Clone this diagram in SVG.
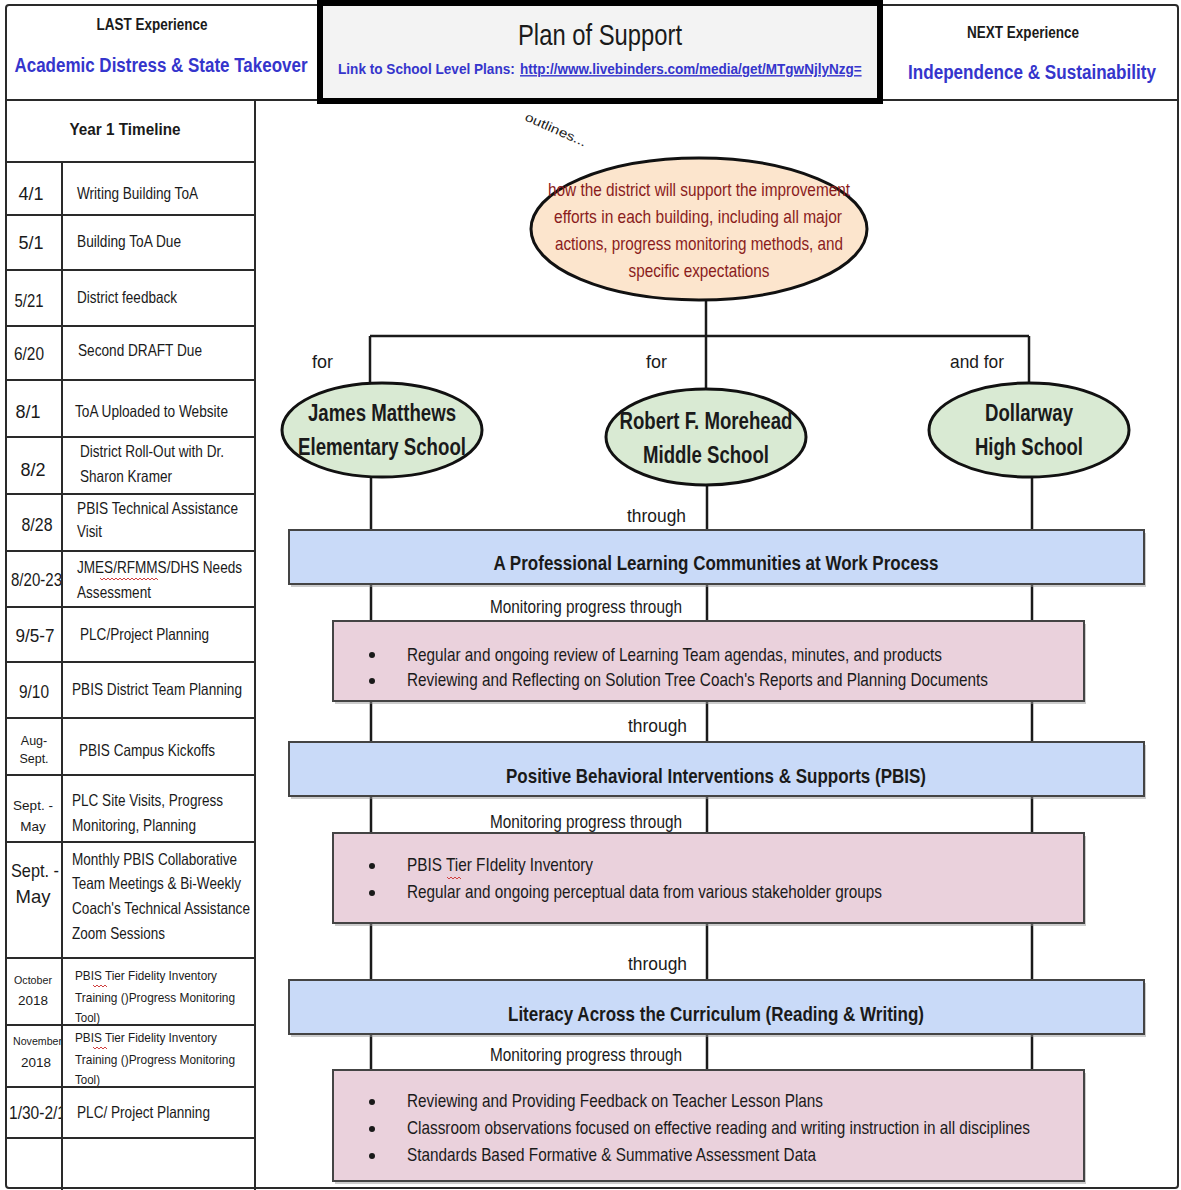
<svg xmlns="http://www.w3.org/2000/svg" width="1181" height="1190" viewBox="0 0 1181 1190">
<defs>
<style>
text{font-family:"Liberation Sans",Arial,sans-serif;fill:#1a1a1a}
.b{font-weight:bold}
.blue{fill:#3535cc}
.m{text-anchor:middle}
.d{font-size:18px}
.s{font-size:16.5px}
.xs{font-size:13.5px}
.tiny{font-size:11.5px}
.grid{stroke:#2a2a2a;stroke-width:2;fill:none}
.conn{stroke:#1a1a1a;stroke-width:2.5;fill:none}
.school{fill:#d9ead3;stroke:#111;stroke-width:3}
.sch{font-size:24px;font-weight:bold;text-anchor:middle}
.bar{fill:#c9daf8;stroke:#444;stroke-width:2}
.bart{font-size:21px;font-weight:bold;text-anchor:middle}
.pink{fill:#ead1dc;stroke:#444;stroke-width:2}
.bl{font-size:19px}
.lbl{font-size:19px}
.sq{stroke:#d04040;stroke-width:1;fill:none}
.shadow{fill:#999;opacity:0.5}
</style>
</defs>
<rect x="0" y="0" width="1181" height="1190" fill="#fff"/>

<!-- outer frame & table grid -->
<g id="frame">
<rect x="6" y="5" width="1172" height="1183" class="grid" rx="3"/>
<line x1="6" y1="100" x2="1178" y2="100" class="grid"/>
<line x1="255" y1="100" x2="255" y2="1190" class="grid"/>
</g>

<!-- header -->
<g id="last-experience">
<text x="152" y="30" class="b m" font-size="16.5" textLength="111" lengthAdjust="spacingAndGlyphs">LAST Experience</text>
<text transform="translate(161 72) scale(0.72 1)" x="0" y="0" class="b m blue" font-size="21" textLength="407" lengthAdjust="spacingAndGlyphs">Academic Distress &amp; State Takeover</text>
</g>
<g id="plan-of-support">
<rect x="320" y="3" width="560" height="98" fill="#f3f3f3" stroke="#000" stroke-width="6"/>
<text x="600" y="45" class="m" font-size="30" textLength="164" lengthAdjust="spacingAndGlyphs">Plan of Support</text>
<text transform="translate(338 74) scale(0.8 1)" x="0" y="0" class="b blue" font-size="14" textLength="221" lengthAdjust="spacingAndGlyphs">Link to School Level Plans:</text>
<text transform="translate(520 74) scale(0.8 1)" x="0" y="0" class="b blue" font-size="14" text-decoration="underline" textLength="427" lengthAdjust="spacingAndGlyphs">http://www.livebinders.com/media/get/MTgwNjlyNzg=</text>
</g>
<g id="next-experience">
<text x="1023" y="38" class="b m" font-size="16.5" textLength="112" lengthAdjust="spacingAndGlyphs">NEXT Experience</text>
<text transform="translate(1032 79) scale(0.78 1)" x="0" y="0" class="b m blue" font-size="21" textLength="318" lengthAdjust="spacingAndGlyphs">Independence &amp; Sustainability</text>
</g>

<!-- timeline table -->
<g id="timeline">
<text x="125" y="135" class="b m" font-size="17" textLength="111" lengthAdjust="spacingAndGlyphs">Year 1 Timeline</text>

<text x="31" y="200" class="d m">4/1</text>
<text x="77" y="199" class="s" textLength="121" lengthAdjust="spacingAndGlyphs">Writing Building ToA</text>

<text x="31" y="249" class="d m">5/1</text>
<text x="77" y="247" class="s" textLength="104" lengthAdjust="spacingAndGlyphs">Building ToA Due</text>

<text x="29" y="307" class="d m" textLength="29" lengthAdjust="spacingAndGlyphs">5/21</text>
<text x="77" y="303" class="s" textLength="100" lengthAdjust="spacingAndGlyphs">District feedback</text>

<text x="29" y="360" class="d m" textLength="30" lengthAdjust="spacingAndGlyphs">6/20</text>
<text x="78" y="356" class="s" textLength="124" lengthAdjust="spacingAndGlyphs">Second DRAFT Due</text>

<text x="28" y="418" class="d m">8/1</text>
<text x="75" y="417" class="s" textLength="153" lengthAdjust="spacingAndGlyphs">ToA Uploaded to Website</text>

<text x="33" y="476" class="d m">8/2</text>
<text x="80" y="457" class="s" textLength="144" lengthAdjust="spacingAndGlyphs">District Roll-Out with Dr.</text>
<text x="80" y="482" class="s" textLength="92" lengthAdjust="spacingAndGlyphs">Sharon Kramer</text>

<text x="37" y="531" class="d m" textLength="31" lengthAdjust="spacingAndGlyphs">8/28</text>
<text x="77" y="514" class="s" textLength="161" lengthAdjust="spacingAndGlyphs">PBIS Technical Assistance</text>
<text x="77" y="537" class="s" textLength="25" lengthAdjust="spacingAndGlyphs">Visit</text>

<text x="11" y="586" class="d" textLength="51" lengthAdjust="spacingAndGlyphs">8/20-23</text>
<text x="77" y="573" class="s" textLength="165" lengthAdjust="spacingAndGlyphs">JMES/RFMMS/DHS Needs</text>
<path class="sq" d="M100 578 l2 2 l2 -2 l2 2 l2 -2 l2 2 l2 -2 l2 2 l2 -2 l2 2 l2 -2 l2 2 l2 -2 l2 2 l2 -2 l2 2 l2 -2 l2 2 l2 -2 l2 2 l2 -2 l2 2 l2 -2 l2 2 l2 -2 l2 2 l2 -2 l2 2 l2 -2 l2 2"/>
<text x="77" y="598" class="s" textLength="74" lengthAdjust="spacingAndGlyphs">Assessment</text>

<text x="35" y="642" class="d m" textLength="39" lengthAdjust="spacingAndGlyphs">9/5-7</text>
<text x="80" y="640" class="s" textLength="129" lengthAdjust="spacingAndGlyphs">PLC/Project Planning</text>

<text x="34" y="698" class="d m" textLength="30" lengthAdjust="spacingAndGlyphs">9/10</text>
<text x="72" y="695" class="s" textLength="170" lengthAdjust="spacingAndGlyphs">PBIS District Team Planning</text>

<text x="34" y="745" class="m" font-size="12.5">Aug-</text>
<text x="34" y="763" class="m" font-size="12.5">Sept.</text>
<text x="79" y="756" class="s" textLength="136" lengthAdjust="spacingAndGlyphs">PBIS Campus Kickoffs</text>

<text x="33" y="810" class="xs m">Sept. -</text>
<text x="33" y="831" class="xs m">May</text>
<text x="72" y="806" class="s" textLength="151" lengthAdjust="spacingAndGlyphs">PLC Site Visits, Progress</text>
<text x="72" y="831" class="s" textLength="124" lengthAdjust="spacingAndGlyphs">Monitoring, Planning</text>

<text x="35" y="877" class="m" font-size="18.5" textLength="48" lengthAdjust="spacingAndGlyphs">Sept. -</text>
<text x="33" y="903" class="m" font-size="18.5">May</text>
<text x="72" y="865" class="s" textLength="165" lengthAdjust="spacingAndGlyphs">Monthly PBIS Collaborative</text>
<text x="72" y="889" class="s" textLength="169" lengthAdjust="spacingAndGlyphs">Team Meetings &amp; Bi-Weekly</text>
<text x="72" y="914" class="s" textLength="178" lengthAdjust="spacingAndGlyphs">Coach's Technical Assistance</text>
<text x="72" y="939" class="s" textLength="93" lengthAdjust="spacingAndGlyphs">Zoom Sessions</text>

<text x="33" y="984" class="tiny m" textLength="38" lengthAdjust="spacingAndGlyphs">October</text>
<text x="33" y="1005" class="xs m">2018</text>
<text x="75" y="980" class="xs" textLength="142" lengthAdjust="spacingAndGlyphs">PBIS Tier Fidelity Inventory</text>
<path class="sq" d="M93 985 l2 2 l2 -2 l2 2 l2 -2 l2 2 l2 -2 l2 2"/>
<text x="75" y="1002" class="xs" textLength="160" lengthAdjust="spacingAndGlyphs">Training ()Progress Monitoring</text>
<text x="75" y="1022" class="xs" textLength="25" lengthAdjust="spacingAndGlyphs">Tool)</text>

<text x="13" y="1045" class="tiny" textLength="49" lengthAdjust="spacingAndGlyphs">November</text>
<text x="36" y="1067" class="xs m">2018</text>
<text x="75" y="1042" class="xs" textLength="142" lengthAdjust="spacingAndGlyphs">PBIS Tier Fidelity Inventory</text>
<path class="sq" d="M93 1047 l2 2 l2 -2 l2 2 l2 -2 l2 2 l2 -2 l2 2"/>
<text x="75" y="1064" class="xs" textLength="160" lengthAdjust="spacingAndGlyphs">Training ()Progress Monitoring</text>
<text x="75" y="1084" class="xs" textLength="25" lengthAdjust="spacingAndGlyphs">Tool)</text>

<text x="9" y="1119" class="d" textLength="57" lengthAdjust="spacingAndGlyphs">1/30-2/1</text>
<text x="77" y="1118" class="s" textLength="133" lengthAdjust="spacingAndGlyphs">PLC/ Project Planning</text>

<rect x="63" y="1100" width="4" height="30" fill="#fff"/>
<line x1="62" y1="162" x2="62" y2="1190" class="grid"/>
<g class="grid">
<line x1="6" y1="162" x2="255" y2="162"/>
<line x1="6" y1="215" x2="255" y2="215"/>
<line x1="6" y1="270" x2="255" y2="270"/>
<line x1="6" y1="326" x2="255" y2="326"/>
<line x1="6" y1="380" x2="255" y2="380"/>
<line x1="6" y1="437" x2="255" y2="437"/>
<line x1="6" y1="494" x2="255" y2="494"/>
<line x1="6" y1="551" x2="255" y2="551"/>
<line x1="6" y1="607" x2="255" y2="607"/>
<line x1="6" y1="662" x2="255" y2="662"/>
<line x1="6" y1="718" x2="255" y2="718"/>
<line x1="6" y1="775" x2="255" y2="775"/>
<line x1="6" y1="842" x2="255" y2="842"/>
<line x1="6" y1="958" x2="255" y2="958"/>
<line x1="6" y1="1025" x2="255" y2="1025"/>
<line x1="6" y1="1087" x2="255" y2="1087"/>
<line x1="6" y1="1138" x2="255" y2="1138"/>
</g>
</g>

<!-- connectors -->
<g id="connectors" class="conn">
<line x1="706" y1="298" x2="706" y2="390"/>
<line x1="370" y1="336" x2="1029" y2="336"/>
<line x1="370" y1="336" x2="370" y2="384"/>
<line x1="1029" y1="336" x2="1029" y2="384"/>
<line x1="371" y1="476" x2="371" y2="1070"/>
<line x1="707" y1="484" x2="707" y2="1070"/>
<line x1="1032" y1="476" x2="1032" y2="1070"/>
</g>

<!-- connector labels -->
<g id="labels">
<text x="524" y="120" font-size="12.5" transform="rotate(24 524 120)" textLength="66" lengthAdjust="spacingAndGlyphs">outlines...</text>
<text x="312" y="368" class="lbl" textLength="21" lengthAdjust="spacingAndGlyphs">for</text>
<text x="646" y="368" class="lbl" textLength="21" lengthAdjust="spacingAndGlyphs">for</text>
<text x="950" y="368" class="lbl" textLength="54" lengthAdjust="spacingAndGlyphs">and for</text>
<text x="627" y="522" class="lbl" textLength="59" lengthAdjust="spacingAndGlyphs">through</text>
<text x="490" y="613" class="lbl" textLength="192" lengthAdjust="spacingAndGlyphs">Monitoring progress through</text>
<text x="628" y="732" class="lbl" textLength="59" lengthAdjust="spacingAndGlyphs">through</text>
<text x="490" y="828" class="lbl" textLength="192" lengthAdjust="spacingAndGlyphs">Monitoring progress through</text>
<text x="628" y="970" class="lbl" textLength="59" lengthAdjust="spacingAndGlyphs">through</text>
<text x="490" y="1061" class="lbl" textLength="192" lengthAdjust="spacingAndGlyphs">Monitoring progress through</text>
</g>

<!-- central node -->
<g id="node-outlines">
<ellipse cx="699" cy="229" rx="168" ry="71" fill="#fce5cd" stroke="#111" stroke-width="3"/>
<text x="699" y="196" class="m" font-size="18.5" style="fill:#8a1c1c" textLength="302" lengthAdjust="spacingAndGlyphs">how the district will support the improvement</text>
<text x="698" y="223" class="m" font-size="18.5" style="fill:#8a1c1c" textLength="288" lengthAdjust="spacingAndGlyphs">efforts in each building, including all major</text>
<text x="699" y="250" class="m" font-size="18.5" style="fill:#8a1c1c" textLength="288" lengthAdjust="spacingAndGlyphs">actions, progress monitoring methods, and</text>
<text x="699" y="277" class="m" font-size="18.5" style="fill:#8a1c1c" textLength="141" lengthAdjust="spacingAndGlyphs">specific expectations</text>
</g>

<!-- schools -->
<g id="node-jmes">
<ellipse cx="382" cy="430" rx="100" ry="47" class="school"/>
<text x="382" y="421" class="sch" textLength="148" lengthAdjust="spacingAndGlyphs">James Matthews</text>
<text x="382" y="455" class="sch" textLength="168" lengthAdjust="spacingAndGlyphs">Elementary School</text>
</g>
<g id="node-rfmms">
<ellipse cx="706" cy="437" rx="100" ry="48" class="school"/>
<text x="706" y="429" class="sch" textLength="173" lengthAdjust="spacingAndGlyphs">Robert F. Morehead</text>
<text x="706" y="463" class="sch" textLength="126" lengthAdjust="spacingAndGlyphs">Middle School</text>
</g>
<g id="node-dhs">
<ellipse cx="1029" cy="430" rx="100" ry="47" class="school"/>
<text x="1029" y="421" class="sch" textLength="88" lengthAdjust="spacingAndGlyphs">Dollarway</text>
<text x="1029" y="455" class="sch" textLength="108" lengthAdjust="spacingAndGlyphs">High School</text>
</g>

<!-- PLC -->
<g id="node-plc">
<rect x="291" y="533" width="855" height="54" class="shadow"/>
<rect x="289" y="530" width="855" height="54" class="bar"/>
<text x="716" y="570" class="bart" textLength="445" lengthAdjust="spacingAndGlyphs">A Professional Learning Communities at Work Process</text>
</g>
<g id="node-plc-monitor">
<rect x="335" y="624" width="751" height="80" class="shadow"/>
<rect x="333" y="621" width="751" height="80" class="pink"/>
<circle cx="372" cy="655" r="3" fill="#1a1a1a"/>
<circle cx="372" cy="681" r="3" fill="#1a1a1a"/>
<text x="407" y="661" class="bl" textLength="535" lengthAdjust="spacingAndGlyphs">Regular and ongoing review of Learning Team agendas, minutes, and products</text>
<text x="407" y="686" class="bl" textLength="581" lengthAdjust="spacingAndGlyphs">Reviewing and Reflecting on Solution Tree Coach's Reports and Planning Documents</text>
</g>

<!-- PBIS -->
<g id="node-pbis">
<rect x="291" y="745" width="855" height="54" class="shadow"/>
<rect x="289" y="742" width="855" height="54" class="bar"/>
<text x="716" y="783" class="bart" textLength="420" lengthAdjust="spacingAndGlyphs">Positive Behavioral Interventions &amp; Supports (PBIS)</text>
</g>
<g id="node-pbis-monitor">
<rect x="335" y="836" width="751" height="90" class="shadow"/>
<rect x="333" y="833" width="751" height="90" class="pink"/>
<circle cx="372" cy="866" r="3" fill="#1a1a1a"/>
<circle cx="372" cy="893" r="3" fill="#1a1a1a"/>
<text x="407" y="871" class="bl" textLength="186" lengthAdjust="spacingAndGlyphs">PBIS Tier FIdelity Inventory</text>
<path class="sq" d="M447 877 l2 2 l2 -2 l2 2 l2 -2 l2 2 l2 -2 l2 2"/>
<text x="407" y="898" class="bl" textLength="475" lengthAdjust="spacingAndGlyphs">Regular and ongoing perceptual data from various stakeholder groups</text>
</g>

<!-- Literacy -->
<g id="node-literacy">
<rect x="291" y="983" width="855" height="54" class="shadow"/>
<rect x="289" y="980" width="855" height="54" class="bar"/>
<text x="716" y="1021" class="bart" textLength="416" lengthAdjust="spacingAndGlyphs">Literacy Across the Curriculum (Reading &amp; Writing)</text>
</g>
<g id="node-literacy-monitor">
<rect x="335" y="1073" width="751" height="111" class="shadow"/>
<rect x="333" y="1070" width="751" height="111" class="pink"/>
<circle cx="372" cy="1102" r="3" fill="#1a1a1a"/>
<circle cx="372" cy="1129" r="3" fill="#1a1a1a"/>
<circle cx="372" cy="1156" r="3" fill="#1a1a1a"/>
<text x="407" y="1107" class="bl" textLength="416" lengthAdjust="spacingAndGlyphs">Reviewing and Providing Feedback on Teacher Lesson Plans</text>
<text x="407" y="1134" class="bl" textLength="623" lengthAdjust="spacingAndGlyphs">Classroom observations focused on effective reading and writing instruction in all disciplines</text>
<text x="407" y="1161" class="bl" textLength="409" lengthAdjust="spacingAndGlyphs">Standards Based Formative &amp; Summative Assessment Data</text>
</g>
</svg>
